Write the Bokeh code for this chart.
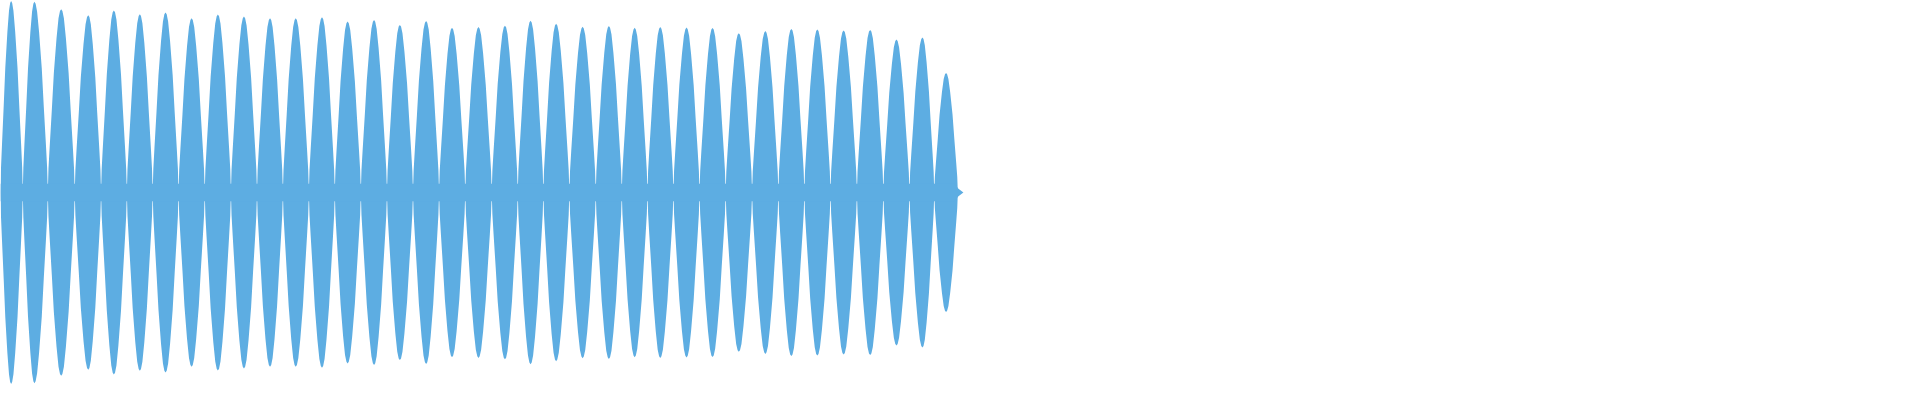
from bokeh.plotting import figure
from bokeh.models import Range1d
from bokeh.embed import file_html
from bokeh.resources import INLINE

# --- data (x in reference pixel columns, amplitude as fraction of full scale) ---
lobe_center = [10.7, 34.2, 61.2, 88.5, 114.3, 140.5, 166.4, 192.7, 219.2, 245.5,
               271.8, 297.7, 324.2, 350.0, 376.7, 402.7, 429.2, 455.3, 482.0, 508.7,
               534.5, 560.3, 587.0, 613.5, 639.5, 665.3, 691.8, 718.0, 744.5, 771.3,
               797.5, 823.7, 850.2, 877.0, 903.5, 929.7, 953.5]
lobe_peak = [0.997, 0.993, 0.955, 0.923, 0.948, 0.928, 0.938, 0.907, 0.927, 0.917,
             0.908, 0.908, 0.913, 0.891, 0.898, 0.873, 0.893, 0.858, 0.862, 0.869,
             0.894, 0.879, 0.863, 0.867, 0.858, 0.862, 0.859, 0.857, 0.830, 0.841,
             0.852, 0.849, 0.844, 0.847, 0.797, 0.807, 0.622]
# measured lobe outline: relative height -> relative half-width
profile_height = [0.0, 0.13, 0.25, 0.45, 0.65, 0.84, 0.95, 0.99, 1.0]
profile_width = [1.0, 0.95, 0.86, 0.70, 0.55, 0.35, 0.20, 0.09, 0.0]
# centre band (between lobes) and its tapering tail
band_x = [0.0, 962.0, 966.0, 971.0]
band_half = [0.045, 0.045, 0.02, 0.0]

COLOR = "#5dade2"

n = len(lobe_center)
mids = [(lobe_center[i] + lobe_center[i + 1]) / 2 for i in range(n - 1)]
left_edges = [max(0.0, 2 * lobe_center[0] - mids[0])] + mids
right_edges = mids + [2 * lobe_center[-1] - mids[-1]]

xs, ys = [], []
for c, a, lo, hi in zip(lobe_center, lobe_peak, left_edges, right_edges):
    hl, hr = c - lo, hi - c
    px, py = [], []
    for h, w in zip(profile_height, profile_width):
        px.append(c - hl * w); py.append(a * h)
    for h, w in zip(reversed(profile_height), reversed(profile_width)):
        px.append(c + hr * w); py.append(a * h)
    for h, w in zip(profile_height[1:], profile_width[1:]):
        px.append(c + hr * w); py.append(-a * h)
    for h, w in zip(reversed(profile_height[:-1]), reversed(profile_width[:-1])):
        px.append(c - hl * w); py.append(-a * h)
    xs.append(px); ys.append(py)

# band outline: top edge left->right, bottom edge right->left
bx = band_x + band_x[::-1]
by = band_half + [-v for v in band_half[::-1]]
xs.append(bx); ys.append(by)

p = figure(width=1904, height=384, output_backend="svg", toolbar_location=None,
           x_range=Range1d(0, 1920), y_range=Range1d(-1, 1),
           x_axis_location=None, y_axis_location=None, min_border=0)
p.grid.visible = False
p.outline_line_color = None
p.background_fill_color = "white"
p.border_fill_color = "white"

p.patches(xs, ys, fill_color=COLOR, line_color=None)

open("out.html", "w").write(file_html(p, INLINE))
